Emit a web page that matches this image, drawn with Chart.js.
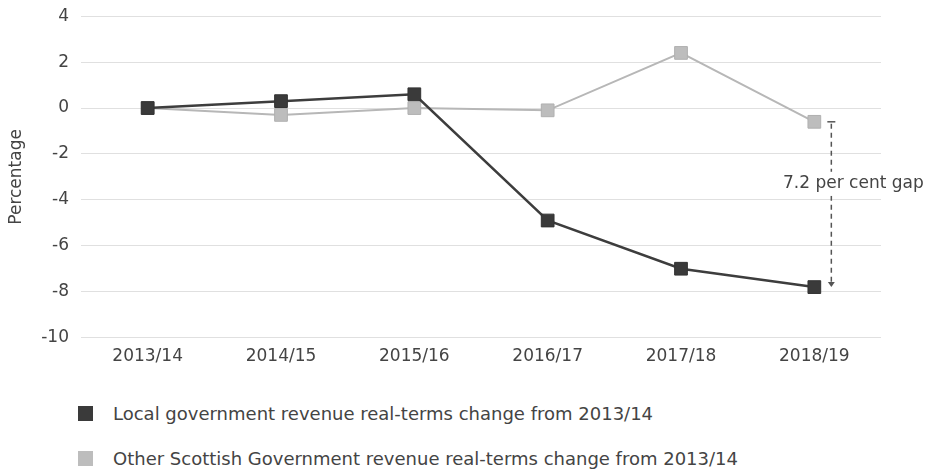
<!DOCTYPE html>
<html>
<head>
<meta charset="utf-8">
<script src="https://cdn.jsdelivr.net/npm/chart.js@4"></script>
<style>
  html, body { margin: 0; padding: 0; background: #fff; }
  body { width: 927px; height: 473px; position: relative; overflow: hidden; font-family: "DejaVu Sans", sans-serif; }
  #wrap { position: absolute; left: 0; top: 0; width: 927px; height: 378px; }
  #legend { position: absolute; left: 78px; top: 391px; color: #444; font-size: 18px; }
  .item { display: flex; align-items: center; height: 45px; }
  .swatch { width: 15px; height: 15px; margin-right: 20px; }
</style>
</head>
<body>
<div id="wrap"><canvas id="c"></canvas></div>
<div id="legend"></div>
<script>
// Financial years on the x axis
const years = ['2013/14', '2014/15', '2015/16', '2016/17', '2017/18', '2018/19'];

// Real-terms change in revenue from 2013/14, per cent
const localGovChange = [0, 0.3, 0.6, -4.9, -7.0, -7.8];
const otherScotGovChange = [0, -0.3, 0, -0.1, 2.4, -0.6];

// Y axis range and tick step
const yMin = -10;
const yMax = 4;
const yStep = 2;

const seriesLabels = [
  'Local government revenue real-terms change from 2013/14',
  'Other Scottish Government revenue real-terms change from 2013/14'
];
const lineColours = ['#3d3d3d', '#b7b7b7'];
const markerColours = ['#3a3a3a', '#bdbdbd'];
const fontFamily = '"DejaVu Sans", sans-serif';

// Dashed bracket showing the gap between the two series in the final year
const gapBracket = {
  id: 'gapBracket',
  afterDatasetsDraw(chart) {
    const { ctx, scales: { x, y } } = chart;
    const last = years.length - 1;
    const top = otherScotGovChange[last];
    const bottom = localGovChange[last];
    const gap = (top - bottom).toFixed(1);
    const lx = x.getPixelForValue(last) + 17;
    const y1 = y.getPixelForValue(top);
    const y2 = y.getPixelForValue(bottom);
    ctx.save();
    ctx.strokeStyle = '#555';
    ctx.lineWidth = 1.5;
    ctx.setLineDash([5, 4]);
    ctx.beginPath();
    ctx.moveTo(lx, y1 + 2);
    ctx.lineTo(lx, y2 - 4);
    ctx.stroke();
    ctx.setLineDash([]);
    // top cap
    ctx.beginPath();
    ctx.moveTo(lx - 4, y1);
    ctx.lineTo(lx + 4, y1);
    ctx.stroke();
    // bottom arrow
    ctx.fillStyle = '#555';
    ctx.beginPath();
    ctx.moveTo(lx - 3.5, y2 - 5);
    ctx.lineTo(lx + 3.5, y2 - 5);
    ctx.lineTo(lx, y2);
    ctx.closePath();
    ctx.fill();
    // label
    const text = gap + ' per cent gap';
    ctx.font = '17px ' + fontFamily;
    const ty = y.getPixelForValue(-3.3);
    const w = ctx.measureText(text).width;
    const tx = 783;
    ctx.fillStyle = '#fff';
    ctx.fillRect(tx - 2, ty - 12, w + 4, 24);
    ctx.fillStyle = '#444';
    ctx.textBaseline = 'middle';
    ctx.textAlign = 'left';
    ctx.fillText(text, tx, ty);
    ctx.restore();
  }
};

const chart = new Chart(document.getElementById('c'), {
  type: 'line',
  data: {
    labels: years,
    datasets: [
      {
        label: seriesLabels[0],
        data: localGovChange,
        borderColor: lineColours[0],
        backgroundColor: markerColours[0],
        borderWidth: 2.5,
        pointStyle: 'rect',
        pointRadius: 9,
        pointHoverRadius: 9,
        pointBackgroundColor: markerColours[0],
        pointBorderColor: '#333',
        pointBorderWidth: 1,
        tension: 0,
        order: 1
      },
      {
        label: seriesLabels[1],
        data: otherScotGovChange,
        borderColor: lineColours[1],
        backgroundColor: markerColours[1],
        borderWidth: 2,
        pointStyle: 'rect',
        pointRadius: 9,
        pointHoverRadius: 9,
        pointBackgroundColor: markerColours[1],
        pointBorderColor: '#b0b0b0',
        pointBorderWidth: 1,
        tension: 0,
        order: 2
      }
    ]
  },
  options: {
    responsive: true,
    maintainAspectRatio: false,
    animation: false,
    layout: { padding: { top: 0, right: 46, bottom: 2, left: 0 } },
    plugins: {
      legend: { display: false },
      tooltip: { enabled: false }
    },
    scales: {
      x: {
        offset: true,
        grid: { display: false, drawTicks: false },
        border: { display: false },
        ticks: { color: '#444', font: { family: fontFamily, size: 17 }, padding: 9 }
      },
      y: {
        min: yMin,
        max: yMax,
        ticks: { stepSize: yStep, color: '#444', font: { family: fontFamily, size: 17 }, padding: 12 },
        grid: { color: '#e0e0e0', lineWidth: 1, drawTicks: false },
        border: { display: false },
        title: { display: true, text: 'Percentage', color: '#444', font: { family: fontFamily, size: 17 }, padding: { top: 6, bottom: 0 } },
        afterFit(scale) {
          scale.width = 81;
          scale.paddingTop = Math.max(0, scale.paddingTop - 6);
        }
      }
    }
  },
  plugins: [gapBracket]
});

// Legend below the plot
const legend = document.getElementById('legend');
seriesLabels.forEach((label, i) => {
  const item = document.createElement('div');
  item.className = 'item';
  const sw = document.createElement('span');
  sw.className = 'swatch';
  sw.style.background = markerColours[i];
  const t = document.createElement('span');
  t.textContent = label;
  item.appendChild(sw);
  item.appendChild(t);
  legend.appendChild(item);
});
</script>
</body>
</html>
